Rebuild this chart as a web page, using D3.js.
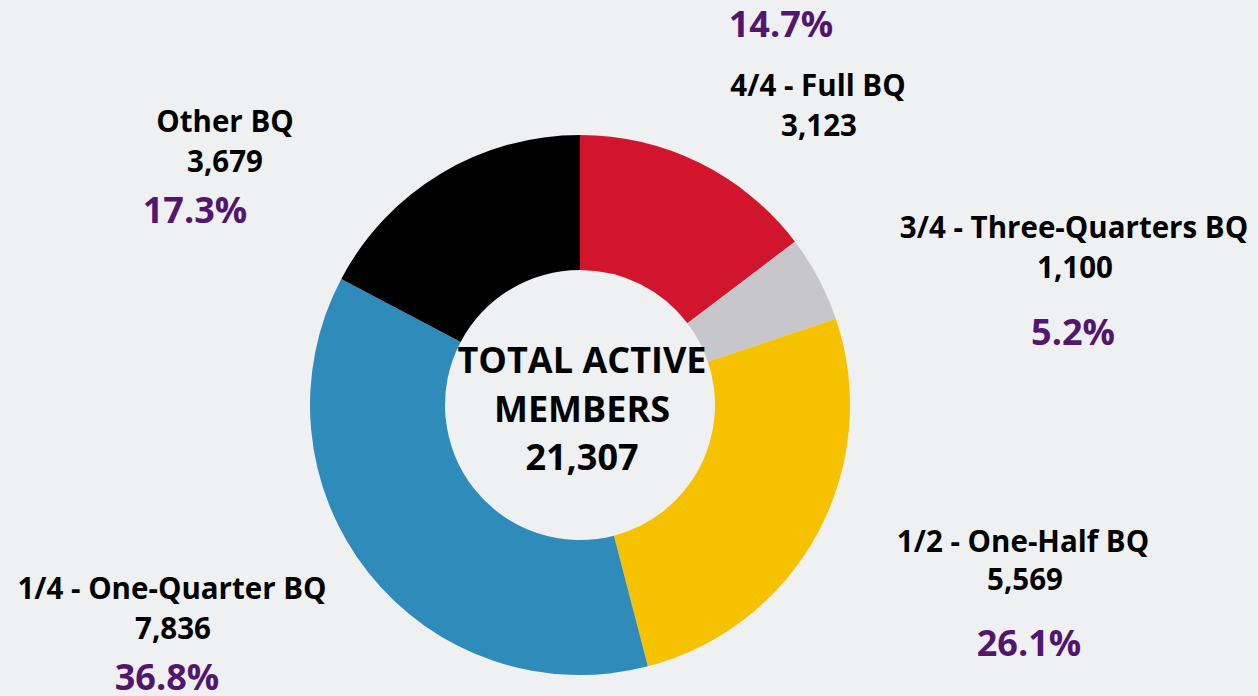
<!DOCTYPE html>
<html>
<head>
<meta charset="utf-8">
<script src="https://cdn.jsdelivr.net/npm/d3@7"></script>
<style>
  html, body { margin: 0; padding: 0; background: #eff0f2; }
  svg { display: block; }
  text { font-family: "Open Sans", "DejaVu Sans", sans-serif; font-weight: 700; }
</style>
</head>
<body>
<svg id="chart"></svg>
<script>
// data, clockwise from 12 o'clock
const categories = ['4/4 - Full BQ', '3/4 - Three-Quarters BQ', '1/2 - One-Half BQ', '1/4 - One-Quarter BQ', 'Other BQ']
const members = [3123, 1100, 5569, 7836, 3679]
const colors = ['#d0152d', '#c7c7cb', '#f6c200', '#2e8bba', '#000000']
const centerLines = ['TOTAL ACTIVE', 'MEMBERS']

// where each label block sits: name / count / percent baselines
const labelPos = [
  { name: [818, 96], count: [819, 136], pct: [781, 37] },
  { name: [1074, 238], count: [1075, 278], pct: [1073, 345] },
  { name: [1023, 552], count: [1025, 590], pct: [1029, 656] },
  { name: [172, 599], count: [173, 639], pct: [167, 690] },
  { name: [225, 132], count: [225, 172], pct: [195, 223] }
]

const width = 1258
const height = 696
const cx = 580
const cy = 405
const outerR = 270
const innerR = 135

const total = d3.sum(members)
const fmtNum = d3.format(',')
const fmtPct = d3.format('.1%')

const svg = d3.select('#chart')
  .attr('width', width)
  .attr('height', height)

const pie = d3.pie().sort(null).value(d => d)
const arc = d3.arc().innerRadius(innerR).outerRadius(outerR)

const g = svg.append('g').attr('transform', `translate(${cx}, ${cy})`)

g.selectAll('path')
  .data(pie(members))
  .join('path')
  .attr('d', arc)
  .attr('fill', (d, i) => colors[i])

// labels
const labels = svg.selectAll('g.label')
  .data(categories)
  .join('g')
  .attr('class', 'label')
  .attr('text-anchor', 'middle')

labels.append('text')
  .attr('x', (d, i) => labelPos[i].name[0])
  .attr('y', (d, i) => labelPos[i].name[1])
  .attr('font-size', 29.5)
  .attr('fill', '#000')
  .text(d => d)

labels.append('text')
  .attr('x', (d, i) => labelPos[i].count[0])
  .attr('y', (d, i) => labelPos[i].count[1])
  .attr('font-size', 29.5)
  .attr('fill', '#000')
  .text((d, i) => fmtNum(members[i]))

labels.append('text')
  .attr('x', (d, i) => labelPos[i].pct[0])
  .attr('y', (d, i) => labelPos[i].pct[1])
  .attr('font-size', 36)
  .attr('fill', '#521570')
  .text((d, i) => fmtPct(members[i] / total))

// center text
const center = svg.append('g').attr('text-anchor', 'middle').attr('font-size', 36)
center.selectAll('text')
  .data(centerLines.concat([fmtNum(total)]))
  .join('text')
  .attr('x', cx + 2)
  .attr('y', (d, i) => 373 + i * 48.5)
  .attr('fill', '#000')
  .text(d => d)
</script>
</body>
</html>
